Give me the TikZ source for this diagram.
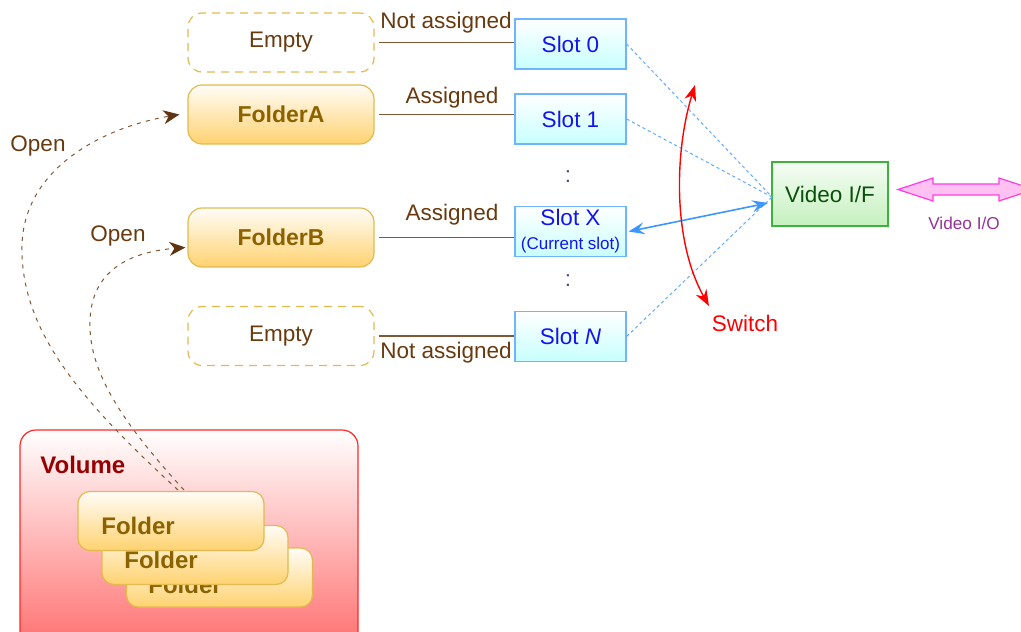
\documentclass[tikz,border=0pt]{standalone}
\usepackage{fontspec}
\setmainfont{Liberation Sans}
\usetikzlibrary{arrows.meta}

\definecolor{txtbrown}{RGB}{104,58,14}
\definecolor{linebrown}{RGB}{128,88,52}
\definecolor{tipbrown}{RGB}{96,52,16}
\definecolor{foldtxt}{RGB}{140,98,0}
\definecolor{foldedge}{RGB}{226,186,80}
\definecolor{foldfill}{RGB}{255,210,112}
\definecolor{slotedge}{RGB}{110,180,255}
\definecolor{slotfill}{RGB}{200,255,255}
\definecolor{slottxt}{RGB}{20,20,240}
\definecolor{vifedge}{RGB}{60,180,60}
\definecolor{viffill}{RGB}{196,240,190}
\definecolor{viftxt}{RGB}{10,80,10}
\definecolor{voledge}{RGB}{255,40,40}
\definecolor{volfill}{RGB}{255,110,110}
\definecolor{voltxt}{RGB}{150,0,0}
\definecolor{ioedge}{RGB}{255,60,225}
\definecolor{iofill}{RGB}{255,192,242}
\definecolor{iotxt}{RGB}{150,50,150}
\definecolor{dotblue}{RGB}{100,170,255}
\definecolor{arrblue}{RGB}{60,150,255}
\definecolor{colondots}{RGB}{80,80,140}

\tikzset{
  maintext/.style={font=\fontsize{11.25}{13}\selectfont},
  emptybox/.style={draw=foldedge, dashed, dash pattern=on 4pt off 3pt, line width=0.6pt,
    rounded corners=7pt, minimum width=93pt, minimum height=29.5pt,
    text=txtbrown, maintext},
  folderbox/.style={draw=foldedge, line width=0.6pt, top color=white!95!foldfill,
    bottom color=foldfill, rounded corners=7pt, minimum width=93pt,
    minimum height=29.5pt, text=foldtxt,
    font=\fontsize{11.5}{13}\selectfont\bfseries},
  stackbox/.style={draw=foldedge, line width=0.6pt, top color=white!95!foldfill,
    bottom color=foldfill, rounded corners=6pt, minimum width=93pt,
    minimum height=29.5pt},
  stacktext/.style={text=foldtxt, font=\fontsize{12}{14}\selectfont\bfseries,
    anchor=west, inner sep=0pt},
  slotbox/.style={draw=slotedge, line width=0.6pt, top color=white,
    bottom color=slotfill, minimum width=55.5pt, minimum height=25pt,
    text=slottxt, maintext, align=center, inner sep=1pt},
  link/.style={draw=linebrown, line width=0.7pt},
  linklabel/.style={text=txtbrown, maintext, inner sep=0pt},
  dotlink/.style={draw=dotblue, line width=0.5pt, dash pattern=on 1.6pt off 1.4pt},
  openpath/.style={draw=linebrown, line width=0.5pt, dash pattern=on 2pt off 2.6pt,
    -{Stealth[length=8pt,width=7pt,inset=2.5pt,color=tipbrown]}},
  colon/.style={text=colondots, maintext, inner sep=0pt}
}

\begin{document}
\begin{tikzpicture}[x=0.5pt,y=-0.5pt]
\useasboundingbox (0,0) rectangle (1021,631);
\begin{scope}
\clip (0,0) rectangle (1021,631);

% folder column
\node[emptybox]  (e0) at (281,42.5) {Empty};
\node[folderbox] (fa) at (281,114.5) {FolderA};
\node[folderbox] (fb) at (281,237.5) {FolderB};
\node[emptybox]  (e1) at (281,336) {Empty};

% slot column
\node[slotbox] (s0) at (570.5,44) {Slot 0};
\node[slotbox] (s1) at (570.5,119) {Slot 1};
\node[slotbox] (sx) at (570.5,231.5) {Slot X\\[-1pt]{\fontsize{8.5}{10}\selectfont(Current slot)}};
\node[slotbox] (sn) at (570.5,336.5) {Slot \textit{N}};
\node[colon] (c1) at (568,177) {:};
\node[colon] (c2) at (568,281) {:};

% assignment links
\draw[link] ([xshift=2pt]e0.east) -- (e0.east -| s0.west);
\draw[link] ([xshift=2pt]fa.east) -- (fa.east -| s1.west);
\draw[link] ([xshift=2pt]fb.east) -- (fb.east -| sx.west);
\draw[link] ([xshift=2pt]e1.east) -- (e1.east -| sn.west);
\node[linklabel] (l0) at (446,23)  {Not assigned};
\node[linklabel] (l1) at (452,98)  {Assigned};
\node[linklabel] (lx) at (452,215) {Assigned};
\node[linklabel] (ln) at (446,353) {Not assigned};

% video interface
\node[draw=vifedge, line width=0.6pt, top color=white!85!viffill, bottom color=viffill,
  minimum width=58pt, minimum height=32pt, text=viftxt, maintext] (vif) at (830,194) {Video I/F};
\coordinate (vin) at (772,197);
\coordinate (vtip) at (768,203);
\draw[dotlink] (s0.east) -- (vin);
\draw[dotlink] (s1.east) -- (vin);
\draw[dotlink] (sn.east) -- (vin);
\draw[draw=arrblue, line width=0.8pt,
  {Stealth[length=8pt,width=6pt,inset=3pt]}-{Stealth[length=8pt,width=6pt,inset=3pt]}]
  ([xshift=1pt]sx.east) -- (vtip);

% switch arc
\coordinate (sw1) at (695,85);
\coordinate (sw2) at (709,306);
\draw[red, line width=0.7pt,
  {Stealth[length=8pt,width=6pt,inset=2.5pt]}-{Stealth[length=8pt,width=6pt,inset=2.5pt]}]
  (sw1) .. controls (675,150) and (672,240) .. (sw2);
\node[text=red, maintext] (swl) at (745,323) {Switch};

% video I/O double arrow
\filldraw[draw=ioedge, fill=iofill, line width=0.6pt]
  (898,189.5) -- (933,178) -- (933,184) -- (999,184) -- (999,178) -- (1034,189.5)
  -- (999,201) -- (999,195) -- (933,195) -- (933,201) -- cycle;
\node[text=iotxt, font=\fontsize{8.6}{10}\selectfont] (vio) at (964,223) {Video I/O};

% volume with stacked folders
\node[draw=voledge, line width=0.6pt, top color=white, bottom color=volfill,
  rounded corners=8pt, minimum width=169pt, minimum height=110pt] (vol) at (189,540) {};
\node[text=voltxt, font=\fontsize{12}{14}\selectfont\bfseries, anchor=west, inner sep=0pt]
  (voll) at (40,465) {Volume};
\node[stackbox] (f3) at (219.5,577.5) {};
\node[stacktext] (t3) at (148,585) {Folder};
\node[stackbox] (f2) at (195,555) {};
\node[stacktext] (t2) at (124,560) {Folder};
\node[stackbox] (f1) at (171,521) {};
\node[stacktext] (t1) at (101,526) {Folder};

% open paths
\coordinate (o1) at (178,490);
\coordinate (o2) at (184,490);
\draw[openpath] (o1) .. controls (80,400) and (20,330) .. (22,245)
  .. controls (24,170) and (100,128) .. ([xshift=-4pt]fa.west);
\draw[openpath] (o2) .. controls (120,420) and (88,370) .. (90,320)
  .. controls (92,270) and (130,252) .. ([xshift=-1pt,yshift=-5pt]fb.west);
\node[linklabel] (op1) at (38,146) {Open};
\node[linklabel] (op2) at (118,236) {Open};
\end{scope}
\end{tikzpicture}
\end{document}
